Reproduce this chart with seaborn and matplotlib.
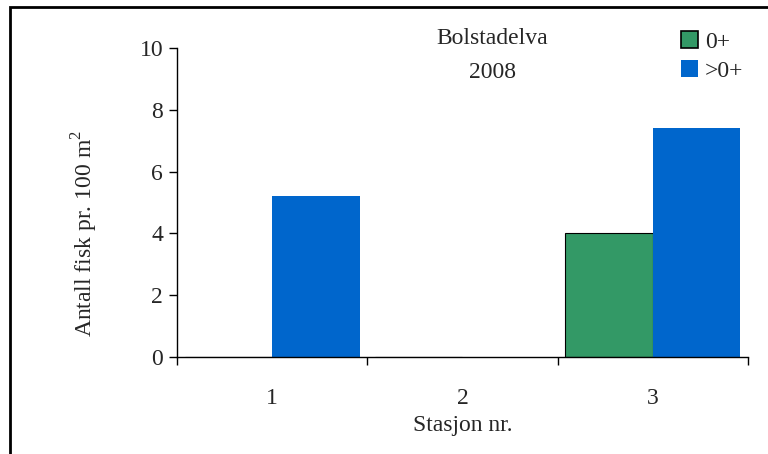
import matplotlib
matplotlib.use("Agg")
import matplotlib.pyplot as plt
import seaborn as sns
import pandas as pd
from matplotlib.patches import Rectangle, Patch

stations = ["1", "2", "3"]
age_groups = ["0+", ">0+"]
values_0 = [0.0, 0.0, 4.0]
values_gt0 = [5.2, 0.0, 7.4]
title_lines = ["Bolstadelva", "2008"]
y_ticks = [0, 2, 4, 6, 8, 10]
colors = {"0+": "#339966", ">0+": "#0066CC"}

df = pd.DataFrame({
    "Stasjon": stations * 2,
    "Gruppe": [age_groups[0]] * 3 + [age_groups[1]] * 3,
    "Antall": values_0 + values_gt0,
})

sns.set_theme(style="white")
plt.rcParams["font.family"] = ["Liberation Serif", "DejaVu Serif"]
plt.rcParams["mathtext.fontset"] = "custom"
plt.rcParams["mathtext.rm"] = "Liberation Serif"

FS = 17

fig = plt.figure(figsize=(7.68, 4.54), dpi=100)
ax = fig.add_axes([177/768, 97/454, (748-177)/768, 309/454])

sns.barplot(data=df, x="Stasjon", y="Antall", hue="Gruppe", order=stations,
            hue_order=age_groups, palette=colors, width=0.92, saturation=1,
            ax=ax, legend=False)

# edges: green bars outlined in black, blue bars none
for cont, grp in zip(ax.containers, age_groups):
    for bar in cont:
        if grp == "0+":
            bar.set_edgecolor("black")
            bar.set_linewidth(0.8)
        else:
            bar.set_edgecolor("none")
            bar.set_linewidth(0)

ax.set_ylim(0, 10)
ax.set_xlim(-0.5, 2.5)
ax.set_yticks(y_ticks)
ax.set_yticklabels([str(v) for v in y_ticks], fontsize=FS)
ax.set_xticks([-0.5, 0.5, 1.5, 2.5])
ax.set_xticklabels([])
ax.set_xticks([0, 1, 2], minor=True)
ax.set_xticklabels(stations, minor=True, fontsize=FS)
ax.tick_params(axis="x", which="minor", length=0, pad=22)
ax.tick_params(axis="x", which="major", direction="out", length=6, width=1, bottom=True, color="black")
ax.tick_params(axis="y", direction="out", length=6, width=1, left=True, color="black", pad=4)

for s in ["top", "right"]:
    ax.spines[s].set_visible(False)
for s in ["left", "bottom"]:
    ax.spines[s].set_color("black")
    ax.spines[s].set_linewidth(1)

ax.set_xlabel("Stasjon nr.", fontsize=FS, labelpad=5)
ax.set_ylabel("Antall fisk pr. 100 m$^2$", fontsize=FS)
ax.yaxis.set_label_coords(-0.134, 0.40)
ax.grid(False)

fig.text(492/768, 1 - 38/454, title_lines[0], ha="center", va="center", fontsize=FS)
fig.text(492/768, 1 - 73/454, title_lines[1], ha="center", va="center", fontsize=FS)

handles = [Patch(facecolor=colors["0+"], edgecolor="black", linewidth=1.2),
           Patch(facecolor=colors[">0+"], edgecolor="none")]
fig.legend(handles, age_groups, loc="upper left", bbox_to_anchor=(672/768, 1 - 22/454),
           frameon=False, fontsize=FS, handlelength=0.7, handleheight=0.7,
           handletextpad=0.3, labelspacing=0.3, borderaxespad=0)

frame = Rectangle((10/768, -0.05), 1.2, 1 - 7/454 + 0.05, transform=fig.transFigure,
                  fill=False, edgecolor="black", linewidth=2, clip_on=False)
fig.patches.append(frame)

fig.savefig("out.png", dpi=100)
